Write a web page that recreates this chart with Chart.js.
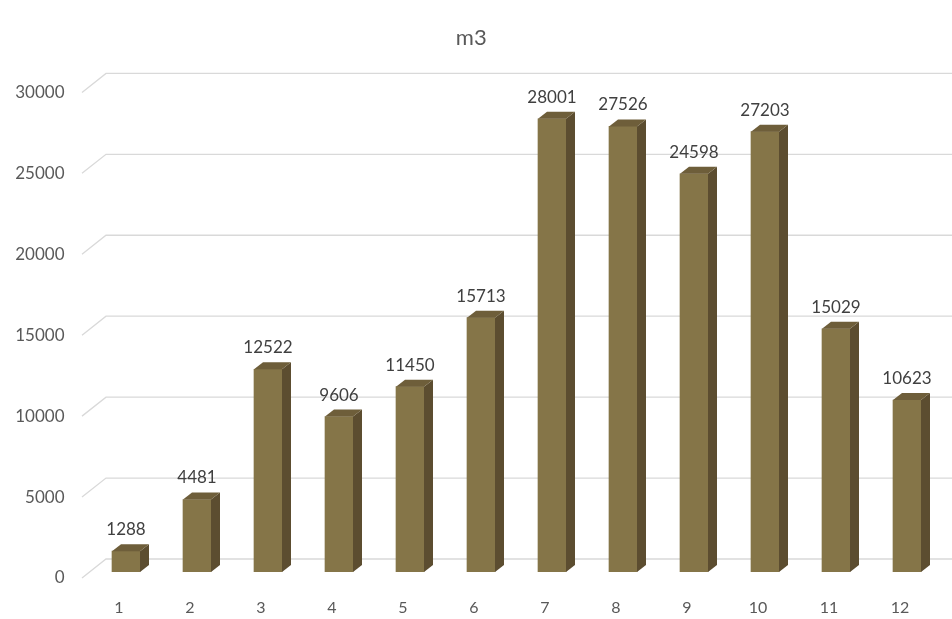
<!DOCTYPE html>
<html>
<head>
<meta charset="utf-8">
<script src="https://cdn.jsdelivr.net/npm/chart.js@4.4.1/dist/chart.umd.min.js"></script>
<style>
  html, body { margin: 0; padding: 0; background: #fff; }
  #wrap { width: 952px; height: 619px; }
</style>
</head>
<body>
<div id="wrap"><canvas id="m3Chart"></canvas></div>
<script>
const months = ['1', '2', '3', '4', '5', '6', '7', '8', '9', '10', '11', '12']
const volumes = [1288, 4481, 12522, 9606, 11450, 15713, 28001, 27526, 24598, 27203, 15029, 10623]
const yTicks = [0, 5000, 10000, 15000, 20000, 25000, 30000]

const frontColor = '#857548'
const sideColor = '#5c4d30'
const topColor = '#6e5e3a'
const gridColor = '#d9d9d9'
const textColor = '#595959'
const depthX = 9
const depthY = 7

// back wall grid with the slanted floor part on the left
const grid3d = {
    id: 'grid3d',
    beforeDatasetsDraw(chart) {
        const { ctx, chartArea, scales } = chart
        const y = scales.y
        ctx.save()
        ctx.strokeStyle = gridColor
        ctx.lineWidth = 1.3
        yTicks.forEach(v => {
            const py = y.getPixelForValue(v)
            ctx.beginPath()
            ctx.moveTo(chartArea.left - 8.5, py + 6)
            ctx.lineTo(chartArea.left + 15.5, py - 13)
            ctx.lineTo(chart.width, py - 13)
            ctx.stroke()
        })
        ctx.restore()
    }
}

// side + top faces and value labels
const bars3d = {
    id: 'bars3d',
    afterDatasetsDraw(chart) {
        const { ctx } = chart
        const meta = chart.getDatasetMeta(0)
        ctx.save()
        meta.data.forEach((bar, i) => {
            const { x, y, base, width } = bar.getProps(['x', 'y', 'base', 'width'], true)
            const l = x - width / 2
            const r = x + width / 2
            ctx.fillStyle = sideColor
            ctx.beginPath()
            ctx.moveTo(r, y)
            ctx.lineTo(r + depthX, y - depthY)
            ctx.lineTo(r + depthX, base - depthY)
            ctx.lineTo(r, base)
            ctx.closePath()
            ctx.fill()
            ctx.fillStyle = topColor
            ctx.beginPath()
            ctx.moveTo(l, y)
            ctx.lineTo(l + depthX, y - depthY)
            ctx.lineTo(r + depthX, y - depthY)
            ctx.lineTo(r, y)
            ctx.closePath()
            ctx.fill()

            ctx.fillStyle = '#404040'
            ctx.font = '17px Lato'
            ctx.textAlign = 'center'
            ctx.textBaseline = 'alphabetic'
            ctx.fillText(String(volumes[i]), x, y - 16)
        })
        ctx.restore()
    }
}

const config = {
    type: 'bar',
    data: {
        labels: months,
        datasets: [{
            label: 'm3',
            data: volumes,
            backgroundColor: frontColor,
            borderWidth: 0,
            barThickness: 28,
        }]
    },
    options: {
        responsive: true,
        maintainAspectRatio: false,
        animation: false,
        layout: {
            padding: { left: 0, right: 9.5, top: 0, bottom: 0 }
        },
        scales: {
            x: {
                grid: { display: false, drawTicks: false },
                border: { display: false },
                ticks: {
                    color: textColor,
                    font: { family: 'Lato', size: 16 },
                    labelOffset: -7,
                    padding: 26,
                },
                afterFit: (s) => { s.height = 47 }
            },
            y: {
                min: 0,
                max: 30000,
                grid: { display: false, drawTicks: false },
                border: { display: false },
                ticks: {
                    stepSize: 5000,
                    color: textColor,
                    font: { family: 'Lato', size: 17 },
                    labelOffset: 6,
                    padding: 26,
                    callback: (value) => String(value)
                },
                afterFit: (s) => { s.width = 90.5 }
            }
        },
        plugins: {
            legend: { display: false },
            tooltip: { enabled: false },
            title: {
                display: true,
                text: 'm3',
                color: textColor,
                font: { family: 'Lato', size: 22, weight: 'normal' },
                padding: { top: 25, bottom: 35 }
            }
        }
    },
    plugins: [grid3d, bars3d]
}

new Chart(document.getElementById('m3Chart').getContext('2d'), config)
</script>
</body>
</html>
